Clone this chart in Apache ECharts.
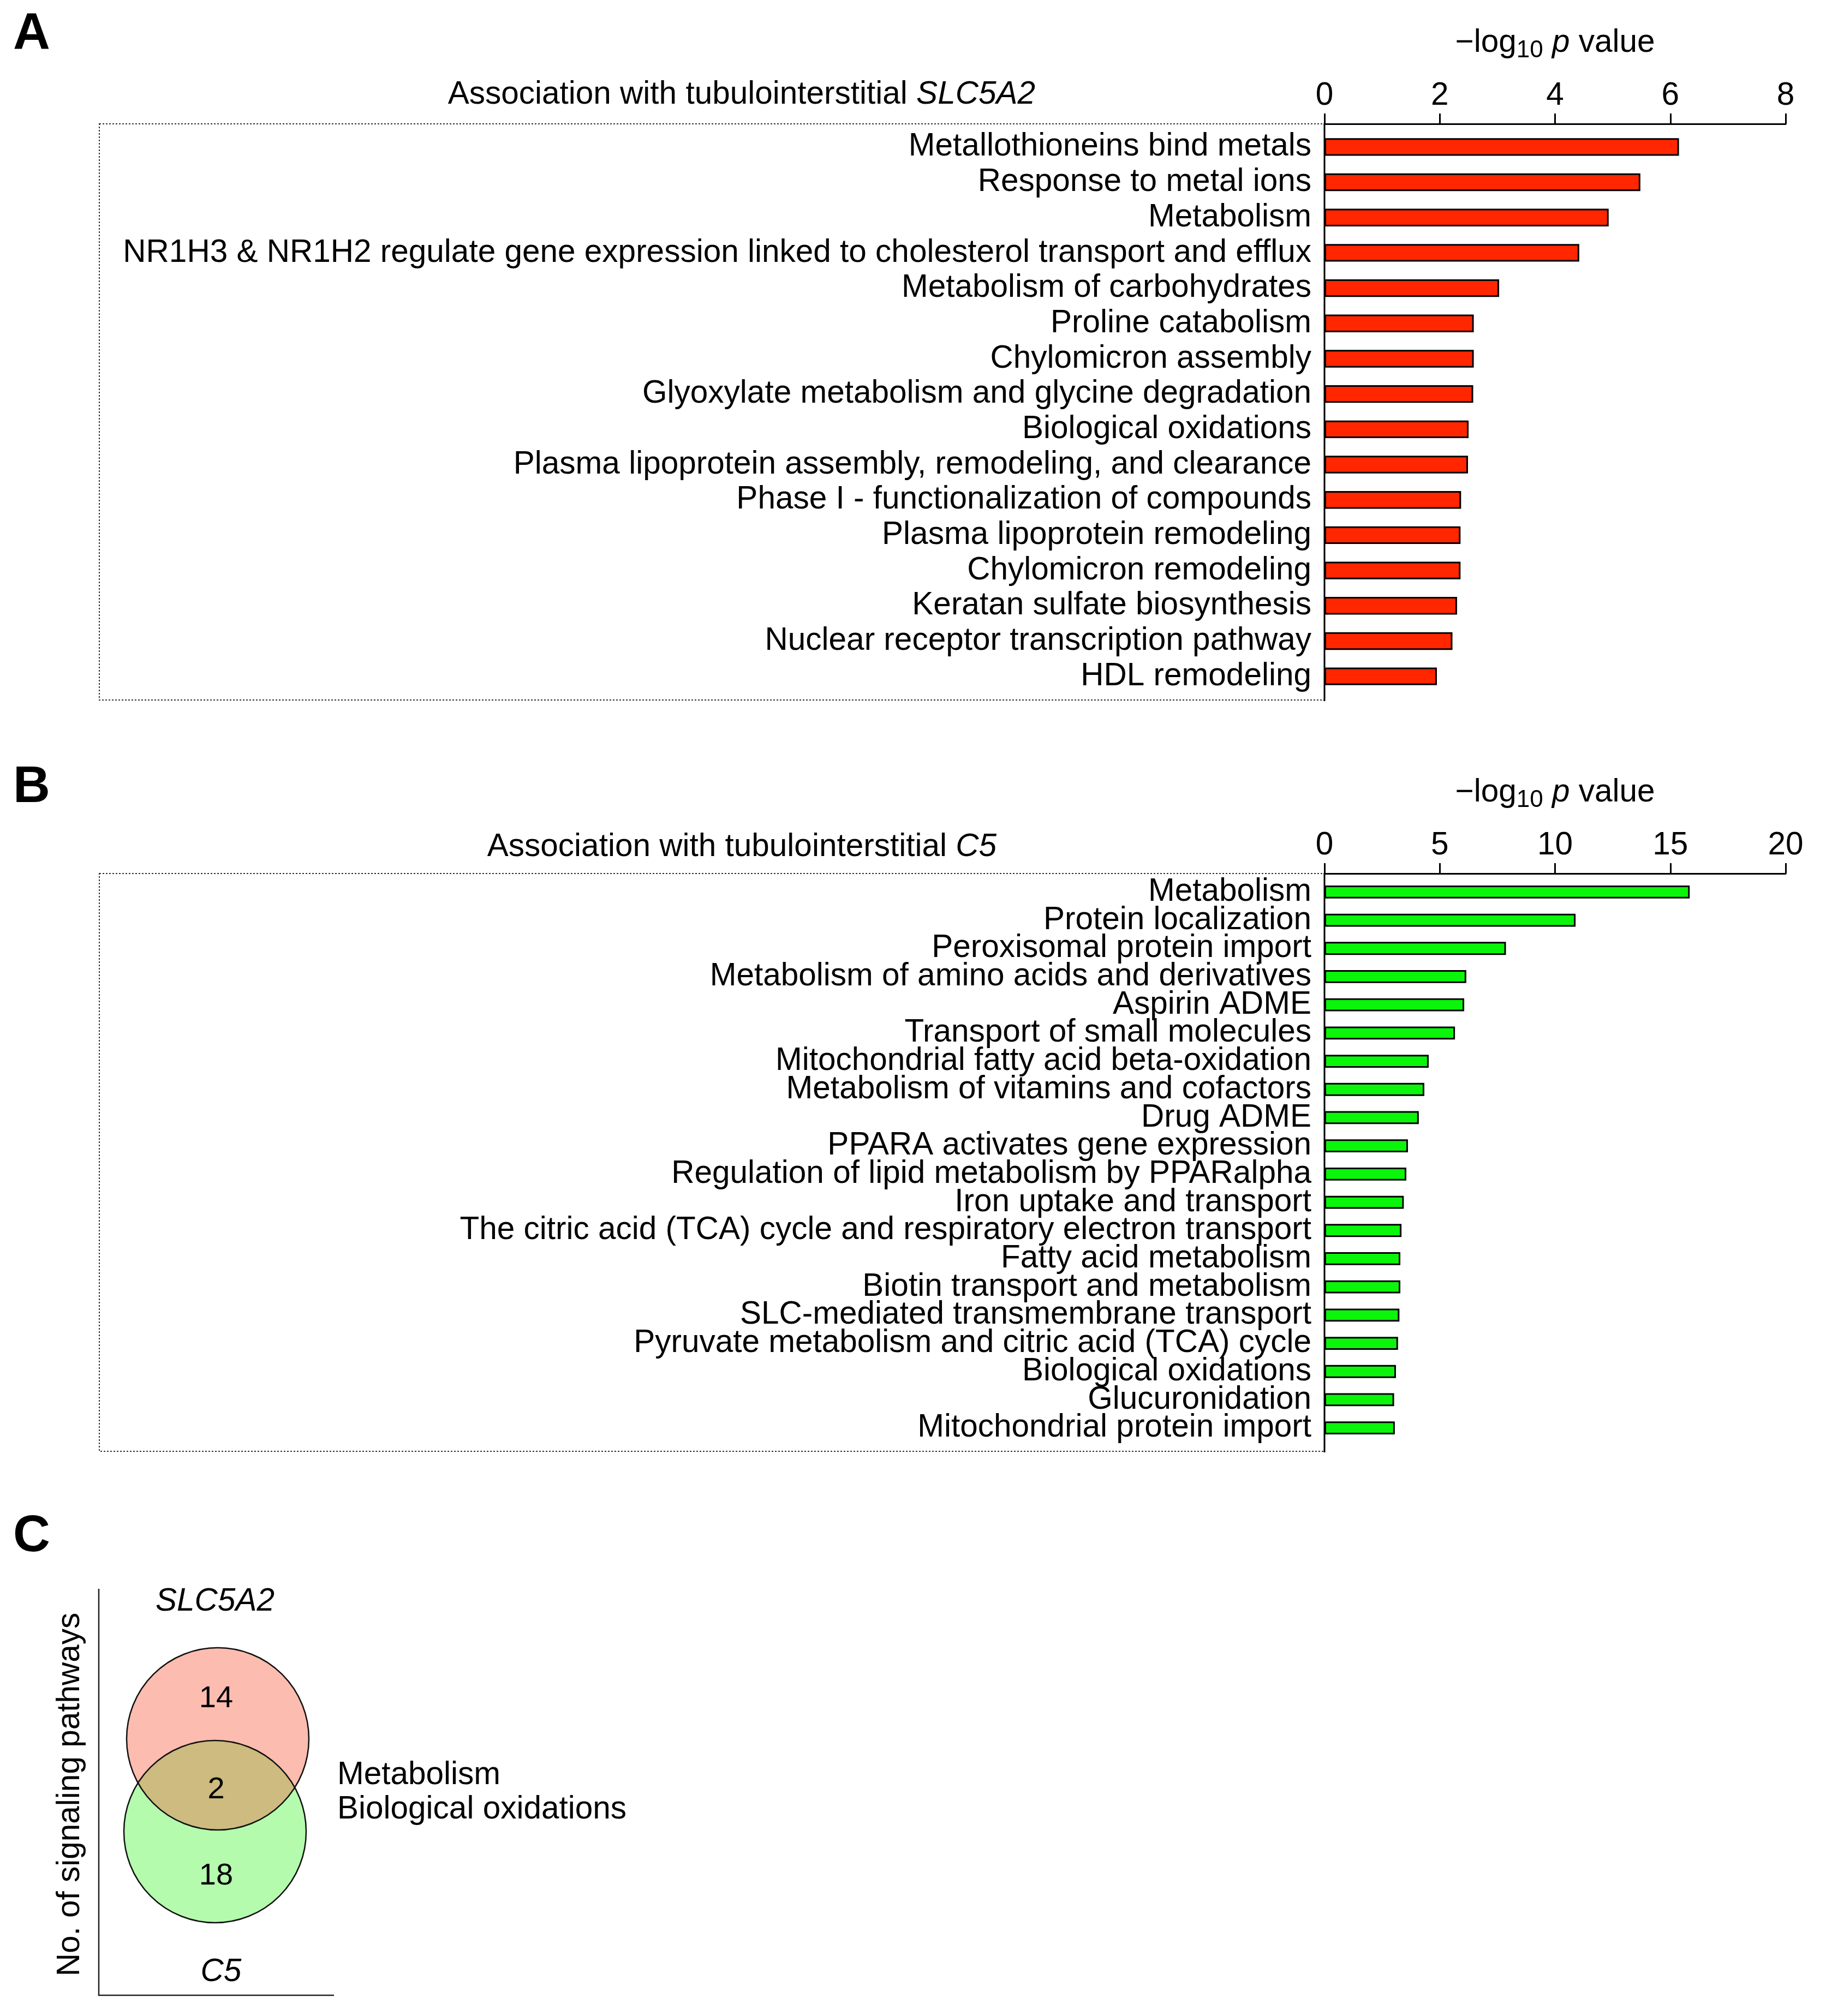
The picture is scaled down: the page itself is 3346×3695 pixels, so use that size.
<!DOCTYPE html>
<html>
<head>
<meta charset="utf-8">
<script src="https://cdn.jsdelivr.net/npm/echarts@6/dist/echarts.min.js"></script>
<style>
  html, body { margin: 0; padding: 0; background: #fff; }
  #main { width: 3346px; height: 3695px; }
</style>
</head>
<body>
<div id="main"></div>
<script>
// panel A: pathways associated with tubulointerstitial SLC5A2
var catsA = [
    'Metallothioneins bind metals',
    'Response to metal ions',
    'Metabolism',
    'NR1H3 & NR1H2 regulate gene expression linked to cholesterol transport and efflux',
    'Metabolism of carbohydrates',
    'Proline catabolism',
    'Chylomicron assembly',
    'Glyoxylate metabolism and glycine degradation',
    'Biological oxidations',
    'Plasma lipoprotein assembly, remodeling, and clearance',
    'Phase I - functionalization of compounds',
    'Plasma lipoprotein remodeling',
    'Chylomicron remodeling',
    'Keratan sulfate biosynthesis',
    'Nuclear receptor transcription pathway',
    'HDL remodeling'
];
var valsA = [6.15, 5.48, 4.93, 4.42, 3.03, 2.59, 2.59, 2.58, 2.50, 2.49, 2.37, 2.36, 2.36, 2.30, 2.22, 1.95];
var ticksA = [0, 2, 4, 6, 8];

// panel B: pathways associated with tubulointerstitial C5
var catsB = [
    'Metabolism',
    'Protein localization',
    'Peroxisomal protein import',
    'Metabolism of amino acids and derivatives',
    'Aspirin ADME',
    'Transport of small molecules',
    'Mitochondrial fatty acid beta-oxidation',
    'Metabolism of vitamins and cofactors',
    'Drug ADME',
    'PPARA activates gene expression',
    'Regulation of lipid metabolism by PPARalpha',
    'Iron uptake and transport',
    'The citric acid (TCA) cycle and respiratory electron transport',
    'Fatty acid metabolism',
    'Biotin transport and metabolism',
    'SLC-mediated transmembrane transport',
    'Pyruvate metabolism and citric acid (TCA) cycle',
    'Biological oxidations',
    'Glucuronidation',
    'Mitochondrial protein import'
];
var valsB = [15.84, 10.89, 7.87, 6.15, 6.06, 5.66, 4.52, 4.33, 4.09, 3.62, 3.55, 3.44, 3.34, 3.29, 3.29, 3.25, 3.19, 3.10, 3.02, 3.05];
var ticksB = [0, 5, 10, 15, 20];

// panel C: venn of the two pathway sets
var vennSets = ['SLC5A2', 'C5'];
var vennCounts = [14, 2, 18];   // only SLC5A2, shared, only C5
var sharedPathways = ['Metabolism', 'Biological oxidations'];

var FONT = "'Liberation Sans', Arial, Helvetica, sans-serif";
var FS = 58.5;

var chart = echarts.init(document.getElementById('main'));

// layout
var axisX = 2427, axisW = 845, boxLeft = 182;
var A = { top: 237, height: 1035, line: 227, boxBottom: 1283 };
var B = { top: 1609, height: 1034, line: 1601, boxBottom: 2660 };

function xAxisOf(gridIndex, ticks, offset) {
    return {
        gridIndex: gridIndex,
        type: 'value',
        position: 'top',
        offset: offset,
        min: ticks[0],
        max: ticks[ticks.length - 1],
        interval: ticks[1] - ticks[0],
        splitLine: { show: false },
        axisLine: { show: true, lineStyle: { color: '#000', width: 3 } },
        axisTick: { show: true, length: 19, lineStyle: { color: '#000', width: 3 } },
        axisLabel: { color: '#000', fontSize: FS, fontFamily: FONT, margin: 22 },
        name: '{t|\u2212log}{s|10}{t| }{i|p}{t| value}',
        nameLocation: 'middle',
        nameGap: 112,
        nameTextStyle: {
            rich: {
                t: { fontSize: FS, fontFamily: FONT, color: '#000' },
                s: { fontSize: 44, fontFamily: FONT, color: '#000', padding: [28, 0, 0, 0] },
                i: { fontSize: FS, fontFamily: FONT, color: '#000', fontStyle: 'italic' }
            }
        }
    };
}

function yAxisOf(gridIndex, cats) {
    return {
        gridIndex: gridIndex,
        type: 'category',
        inverse: true,
        data: cats,
        axisLine: { show: false },
        axisTick: { show: false },
        axisLabel: { interval: 0, color: '#000', fontSize: FS, fontFamily: FONT, margin: 24 }
    };
}

function panelBox(p) {
    return [
        {
            type: 'rect', z: 1,
            shape: { x: boxLeft, y: p.line, width: axisX - boxLeft, height: p.boxBottom - p.line },
            style: { fill: 'none', stroke: '#333', lineWidth: 2, lineDash: [3, 3] }
        },
        {
            type: 'line', z: 10,
            shape: { x1: axisX, y1: p.line - 1, x2: axisX, y2: p.boxBottom + 2 },
            style: { stroke: '#000', lineWidth: 3 }
        }
    ];
}

function label(text, x, y, opts) {
    var st = {
        text: text, x: x, y: y,
        fontSize: FS, fontFamily: FONT, fill: '#000',
        textAlign: 'center', textVerticalAlign: 'middle'
    };
    for (var k in opts) st[k] = opts[k];
    return { type: 'text', z: 20, style: st };
}

// venn geometry
var c1 = { x: 399, y: 3187 }, c2 = { x: 394, y: 3357 }, R = 167;
function crossPoints(a, b, r) {
    var dx = b.x - a.x, dy = b.y - a.y, d = Math.sqrt(dx * dx + dy * dy);
    var h = Math.sqrt(r * r - d * d / 4);
    var mx = a.x + dx / 2, my = a.y + dy / 2;
    var p1 = [mx - h * dy / d, my + h * dx / d], p2 = [mx + h * dy / d, my - h * dx / d];
    return p1[0] < p2[0] ? [p1, p2] : [p2, p1];
}
function arcPoints(c, from, to, r, n) {
    var a0 = Math.atan2(from[1] - c.y, from[0] - c.x);
    var a1 = Math.atan2(to[1] - c.y, to[0] - c.x);
    if (a1 < a0) a1 += Math.PI * 2;
    var pts = [];
    for (var i = 0; i <= n; i++) {
        var a = a0 + (a1 - a0) * i / n;
        pts.push([c.x + r * Math.cos(a), c.y + r * Math.sin(a)]);
    }
    return pts;
}
var cross = crossPoints(c1, c2, R);
var lens = arcPoints(c2, cross[0], cross[1], R, 80).concat(arcPoints(c1, cross[1], cross[0], R, 80));

var graphics = [];
graphics = graphics.concat(panelBox(A), panelBox(B));
graphics.push(
    label('A', 24, 64, { fontSize: 94, fontWeight: 'bold', textAlign: 'left' }),
    label('B', 24, 1444, { fontSize: 94, fontWeight: 'bold', textAlign: 'left' }),
    label('C', 24, 2817, { fontSize: 94, fontWeight: 'bold', textAlign: 'left' }),
    label('Association with tubulointerstitial {i|SLC5A2}', 1897, 174, {
        textAlign: 'right',
        rich: { i: { fontSize: FS, fontFamily: FONT, fontStyle: 'italic', fill: '#000' } }
    }),
    label('Association with tubulointerstitial {i|C5}', 1826, 1553, {
        textAlign: 'right',
        rich: { i: { fontSize: FS, fontFamily: FONT, fontStyle: 'italic', fill: '#000' } }
    })
);

// panel C
graphics.push(
    { type: 'circle', z: 2, shape: { cx: c1.x, cy: c1.y, r: R }, style: { fill: '#fcbcb0' } },
    { type: 'circle', z: 3, shape: { cx: c2.x, cy: c2.y, r: R }, style: { fill: '#b4fbae' } },
    { type: 'polygon', z: 4, shape: { points: lens }, style: { fill: '#cdbb7f' } },
    { type: 'circle', z: 5, shape: { cx: c1.x, cy: c1.y, r: R }, style: { fill: 'none', stroke: '#111', lineWidth: 2.5 } },
    { type: 'circle', z: 5, shape: { cx: c2.x, cy: c2.y, r: R }, style: { fill: 'none', stroke: '#111', lineWidth: 2.5 } },
    { type: 'polyline', z: 5, shape: { points: [[181, 2912], [181, 3657], [612, 3657]] }, style: { fill: 'none', stroke: '#222', lineWidth: 2.5 } },
    label(vennSets[0], 394, 2936, { fontStyle: 'italic' }),
    label(vennSets[1], 405, 3615, { fontStyle: 'italic' }),
    label(String(vennCounts[0]), 396, 3114, { fontSize: 56 }),
    label(String(vennCounts[1]), 396, 3281, { fontSize: 56 }),
    label(String(vennCounts[2]), 396, 3439, { fontSize: 56 }),
    label(sharedPathways[0], 618, 3254, { textAlign: 'left' }),
    label(sharedPathways[1], 618, 3317, { textAlign: 'left' }),
    {
        type: 'text', z: 20, x: 129, y: 3289, rotation: Math.PI / 2,
        style: {
            text: 'No. of signaling pathways', x: 0, y: 0,
            fontSize: FS, fontFamily: FONT, fill: '#000',
            textAlign: 'center', textVerticalAlign: 'middle'
        }
    }
);

var option = {
    backgroundColor: '#fff',
    animation: false,
    grid: [
        { left: axisX, width: axisW, top: A.top, height: A.height },
        { left: axisX, width: axisW, top: B.top, height: B.height }
    ],
    xAxis: [xAxisOf(0, ticksA, A.top - A.line), xAxisOf(1, ticksB, B.top - B.line)],
    yAxis: [yAxisOf(0, catsA), yAxisOf(1, catsB)],
    series: [
        {
            type: 'bar', xAxisIndex: 0, yAxisIndex: 0,
            data: valsA, barWidth: '50%',
            itemStyle: { color: '#ff2600', borderColor: '#000', borderWidth: 3 }
        },
        {
            type: 'bar', xAxisIndex: 1, yAxisIndex: 1,
            data: valsB, barWidth: '46%',
            itemStyle: { color: '#0af50a', borderColor: '#000', borderWidth: 3 }
        }
    ],
    graphic: graphics
};
chart.setOption(option);
</script>
</body>
</html>
